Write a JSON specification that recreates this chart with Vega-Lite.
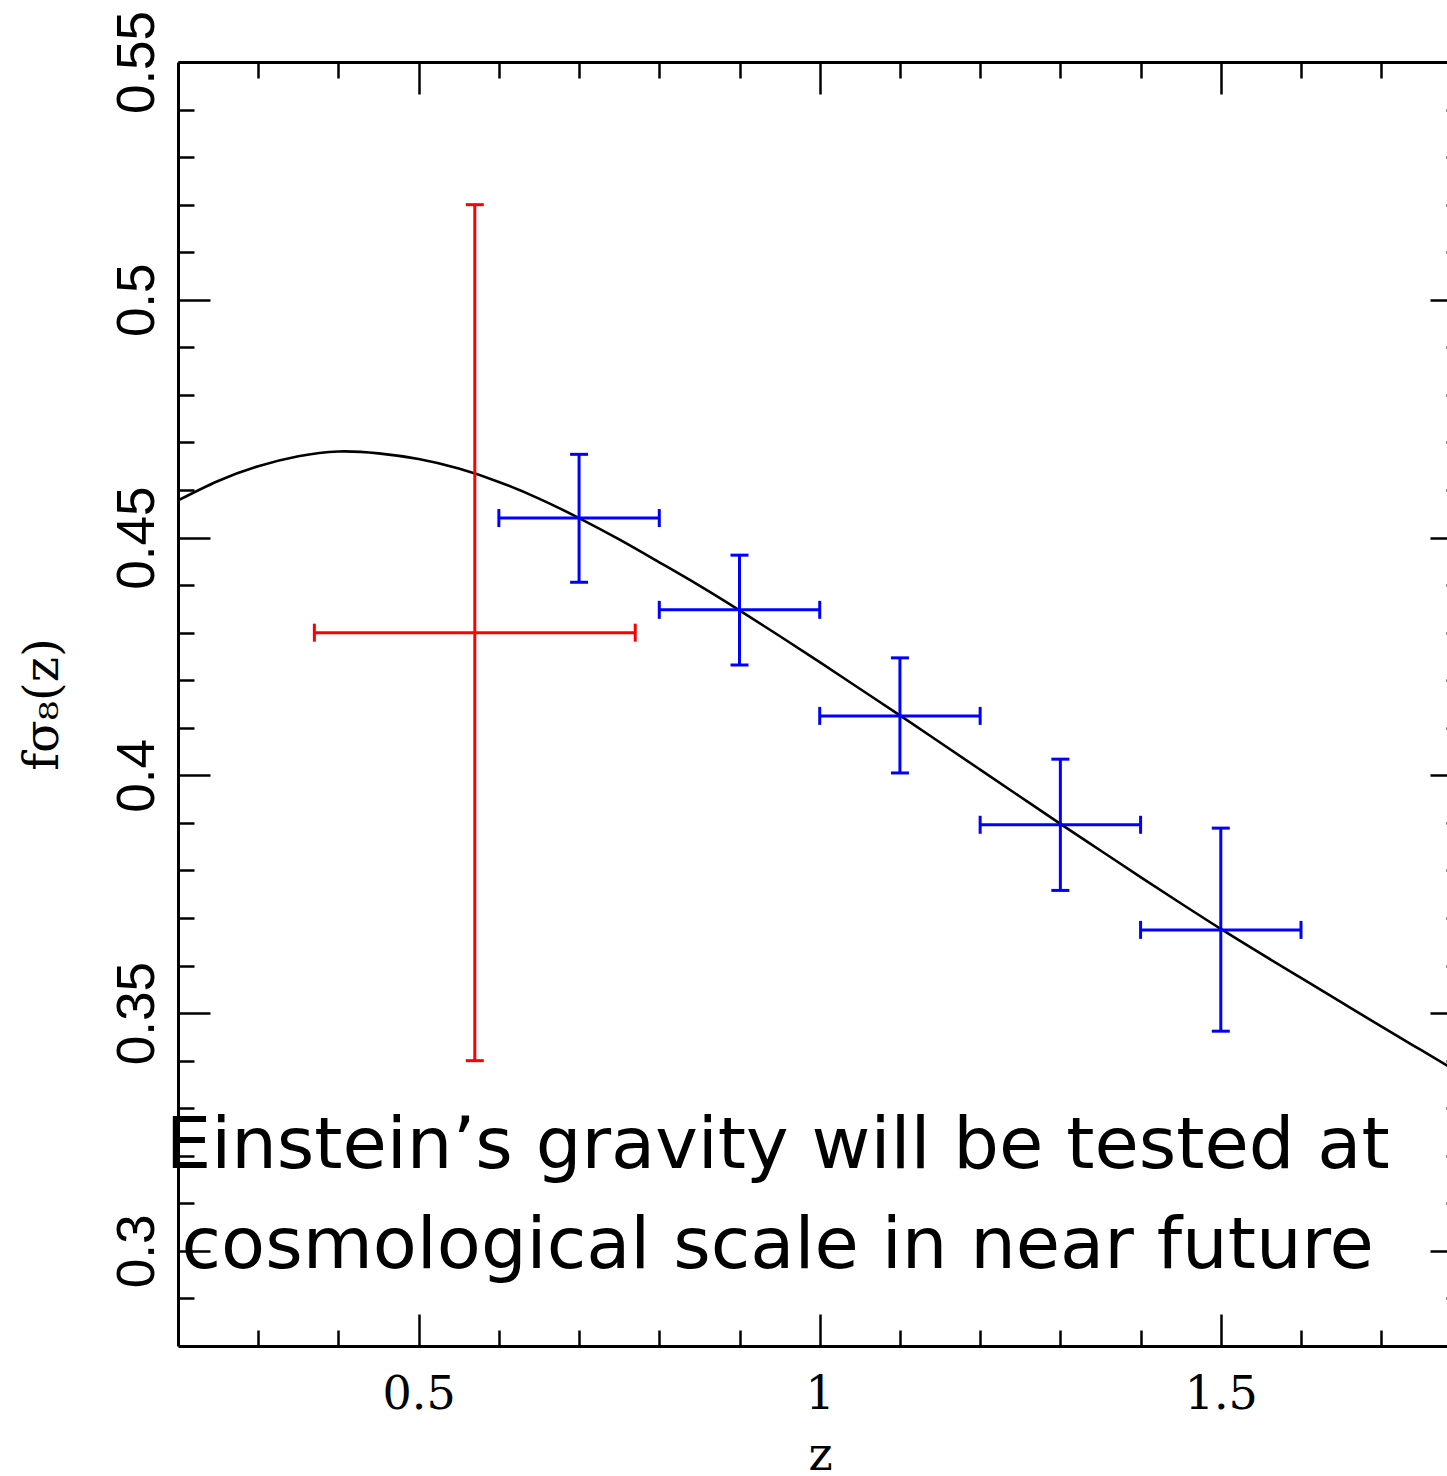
{
  "$schema": "https://vega.github.io/schema/vega-lite/v6.json",
  "autosize": {"type": "none"},
  "padding": {"left": 178, "top": 62, "right": 0, "bottom": 130},
  "width": 1269,
  "height": 1284,
  "background": "white",
  "config": {"view": {"stroke": null}, "axis": {"grid": false, "labelFlush": false, "labelOverlap": false, "labelBound": false, "tickColor": "black", "domainColor": "black", "labelColor": "black", "titleColor": "black"}},
  "datasets": {
    "curve": [
      {"z": 0.2, "f": 0.4578}, {"z": 0.25, "f": 0.4619}, {"z": 0.3, "f": 0.465}, {"z": 0.35, "f": 0.4671},
      {"z": 0.4, "f": 0.4681}, {"z": 0.45, "f": 0.4677}, {"z": 0.5, "f": 0.4665}, {"z": 0.55, "f": 0.4645},
      {"z": 0.6, "f": 0.4617}, {"z": 0.65, "f": 0.4582}, {"z": 0.7, "f": 0.4541}, {"z": 0.75, "f": 0.4496},
      {"z": 0.8, "f": 0.4448}, {"z": 0.85, "f": 0.4399}, {"z": 0.9, "f": 0.4347}, {"z": 0.95, "f": 0.4293},
      {"z": 1.0, "f": 0.4238}, {"z": 1.05, "f": 0.4182}, {"z": 1.1, "f": 0.4126}, {"z": 1.15, "f": 0.4069},
      {"z": 1.2, "f": 0.4012}, {"z": 1.25, "f": 0.3955}, {"z": 1.3, "f": 0.3898}, {"z": 1.35, "f": 0.3842},
      {"z": 1.4, "f": 0.3786}, {"z": 1.45, "f": 0.3731}, {"z": 1.5, "f": 0.3677}, {"z": 1.55, "f": 0.3625},
      {"z": 1.6, "f": 0.3574}, {"z": 1.65, "f": 0.3523}, {"z": 1.7, "f": 0.3472}, {"z": 1.75, "f": 0.3422},
      {"z": 1.8, "f": 0.3372}
    ],
    "points": [
      {"series": "red", "z": 0.57, "zlo": 0.37, "zhi": 0.77, "f": 0.43, "flo": 0.34, "fhi": 0.52},
      {"series": "blue", "z": 0.7, "zlo": 0.6, "zhi": 0.8, "f": 0.4541, "flo": 0.4406, "fhi": 0.4675},
      {"series": "blue", "z": 0.9, "zlo": 0.8, "zhi": 1.0, "f": 0.4348, "flo": 0.4232, "fhi": 0.4463},
      {"series": "blue", "z": 1.1, "zlo": 1.0, "zhi": 1.2, "f": 0.4125, "flo": 0.4005, "fhi": 0.4247},
      {"series": "blue", "z": 1.3, "zlo": 1.2, "zhi": 1.4, "f": 0.3896, "flo": 0.3758, "fhi": 0.4034},
      {"series": "blue", "z": 1.5, "zlo": 1.4, "zhi": 1.6, "f": 0.3675, "flo": 0.3462, "fhi": 0.3889}
    ],
    "notes": [
      {"z": 0.9476, "f": 0.31745, "label": "Einstein’s gravity will be tested at"},
      {"z": 0.9476, "f": 0.29643, "label": "cosmological scale in near future"}
    ]
  },
  "resolve": {"axis": {"x": "independent", "y": "independent"}},
  "layer": [
    {
      "data": {"name": "curve"},
      "mark": {"type": "line", "color": "black", "strokeWidth": 2.6, "clip": true, "interpolate": "natural"},
      "encoding": {
        "x": {"field": "z", "type": "quantitative", "scale": {"domain": [0.2, 1.782], "nice": false, "zero": false},
          "axis": {"orient": "bottom", "values": [0.5, 1, 1.5], "tickSize": -32, "tickWidth": 2.5, "labels": false, "domain": true, "domainWidth": 3, "title": null}},
        "y": {"field": "f", "type": "quantitative", "scale": {"domain": [0.28, 0.55], "nice": false, "zero": false},
          "axis": {"orient": "left", "values": [0.3, 0.35, 0.4, 0.45, 0.5, 0.55], "tickSize": -32, "tickWidth": 2.5, "labels": false, "domain": true, "domainWidth": 3, "title": null}}
      }
    },
    {
      "data": {"name": "points"},
      "mark": {"type": "rule", "strokeWidth": 3},
      "encoding": {
        "x": {"field": "z", "type": "quantitative", "scale": {"domain": [0.2, 1.782], "nice": false, "zero": false},
          "axis": {"orient": "bottom", "values": [0.3, 0.4, 0.6, 0.7, 0.8, 0.9, 1.1, 1.2, 1.3, 1.4, 1.6, 1.7], "tickSize": -16, "tickWidth": 2.5, "labels": false, "domain": false, "title": null}},
        "y": {"field": "flo", "type": "quantitative", "scale": {"domain": [0.28, 0.55], "nice": false, "zero": false},
          "axis": {"orient": "left", "values": [0.29, 0.31, 0.32, 0.33, 0.34, 0.36, 0.37, 0.38, 0.39, 0.41, 0.42, 0.43, 0.44, 0.46, 0.47, 0.48, 0.49, 0.51, 0.52, 0.53, 0.54], "tickSize": -16, "tickWidth": 2.5, "labels": false, "domain": false, "title": null}},
        "y2": {"field": "fhi"},
        "color": {"field": "series", "type": "nominal", "scale": {"domain": ["red", "blue"], "range": ["#ff0000", "#0000ff"]}, "legend": null}
      }
    },
    {
      "data": {"name": "points"},
      "mark": {"type": "rule", "strokeWidth": 3},
      "encoding": {
        "x": {"field": "zlo", "type": "quantitative", "scale": {"domain": [0.2, 1.782], "nice": false, "zero": false},
          "axis": {"orient": "bottom", "values": [0.5, 1, 1.5], "format": "~g", "ticks": false, "tickSize": 0, "domain": false, "labelFont": "DejaVu Serif", "labelFontSize": 46, "labelBaseline": "alphabetic", "labelPadding": 62,
            "title": "z", "titleFont": "DejaVu Serif", "titleFontSize": 46, "titleFontWeight": "normal", "titlePadding": 16, "titleX": 642}},
        "x2": {"field": "zhi"},
        "y": {"field": "f", "type": "quantitative", "scale": {"domain": [0.28, 0.55], "nice": false, "zero": false},
          "axis": {"orient": "left", "values": [0.3, 0.35, 0.4, 0.45, 0.5, 0.55], "format": "~g", "ticks": false, "tickSize": 0, "domain": false, "labelFont": "Liberation Sans", "labelFontSize": 53, "labelAngle": -90, "labelAlign": "center", "labelBaseline": "alphabetic", "labelPadding": 25,
            "title": "fσ₈(z)", "titleFont": "DejaVu Serif", "titleFontSize": 48, "titleFontWeight": "normal", "titlePadding": 44}},
        "color": {"field": "series", "type": "nominal", "scale": {"domain": ["red", "blue"], "range": ["#ff0000", "#0000ff"]}, "legend": null}
      }
    },
    {
      "data": {"name": "points"},
      "transform": [{"fold": ["flo", "fhi"], "as": ["k", "value"]}],
      "mark": {"type": "tick", "orient": "horizontal", "size": 18, "thickness": 3, "opacity": 1},
      "encoding": {
        "x": {"field": "z", "type": "quantitative", "scale": {"domain": [0.2, 1.782], "nice": false, "zero": false},
          "axis": {"orient": "top", "values": [0.5, 1, 1.5], "tickSize": -32, "tickWidth": 2.5, "labels": false, "domain": true, "domainWidth": 3, "title": null}},
        "y": {"field": "value", "type": "quantitative", "scale": {"domain": [0.28, 0.55], "nice": false, "zero": false},
          "axis": {"orient": "right", "offset": 15, "values": [0.3, 0.35, 0.4, 0.45, 0.5, 0.55], "tickSize": -32, "tickWidth": 2.5, "labels": false, "domain": true, "domainWidth": 3, "title": null}},
        "color": {"field": "series", "type": "nominal", "scale": {"domain": ["red", "blue"], "range": ["#ff0000", "#0000ff"]}, "legend": null}
      }
    },
    {
      "data": {"name": "points"},
      "transform": [{"fold": ["zlo", "zhi"], "as": ["k", "value"]}],
      "mark": {"type": "tick", "orient": "vertical", "size": 18, "thickness": 3, "opacity": 1},
      "encoding": {
        "x": {"field": "value", "type": "quantitative", "scale": {"domain": [0.2, 1.782], "nice": false, "zero": false},
          "axis": {"orient": "top", "values": [0.3, 0.4, 0.6, 0.7, 0.8, 0.9, 1.1, 1.2, 1.3, 1.4, 1.6, 1.7], "tickSize": -16, "tickWidth": 2.5, "labels": false, "domain": false, "title": null}},
        "y": {"field": "f", "type": "quantitative", "scale": {"domain": [0.28, 0.55], "nice": false, "zero": false},
          "axis": {"orient": "right", "offset": 15, "values": [0.29, 0.31, 0.32, 0.33, 0.34, 0.36, 0.37, 0.38, 0.39, 0.41, 0.42, 0.43, 0.44, 0.46, 0.47, 0.48, 0.49, 0.51, 0.52, 0.53, 0.54], "tickSize": -16, "tickWidth": 2.5, "labels": false, "domain": false, "title": null}},
        "color": {"field": "series", "type": "nominal", "scale": {"domain": ["red", "blue"], "range": ["#ff0000", "#0000ff"]}, "legend": null}
      }
    },
    {
      "data": {"name": "notes"},
      "mark": {"type": "text", "font": "DejaVu Sans", "fontSize": 72, "align": "center", "baseline": "alphabetic", "color": "black"},
      "encoding": {
        "x": {"field": "z", "type": "quantitative", "scale": {"domain": [0.2, 1.782], "nice": false, "zero": false}, "axis": null},
        "y": {"field": "f", "type": "quantitative", "scale": {"domain": [0.28, 0.55], "nice": false, "zero": false}, "axis": null},
        "text": {"field": "label"}
      }
    }
  ]
}
